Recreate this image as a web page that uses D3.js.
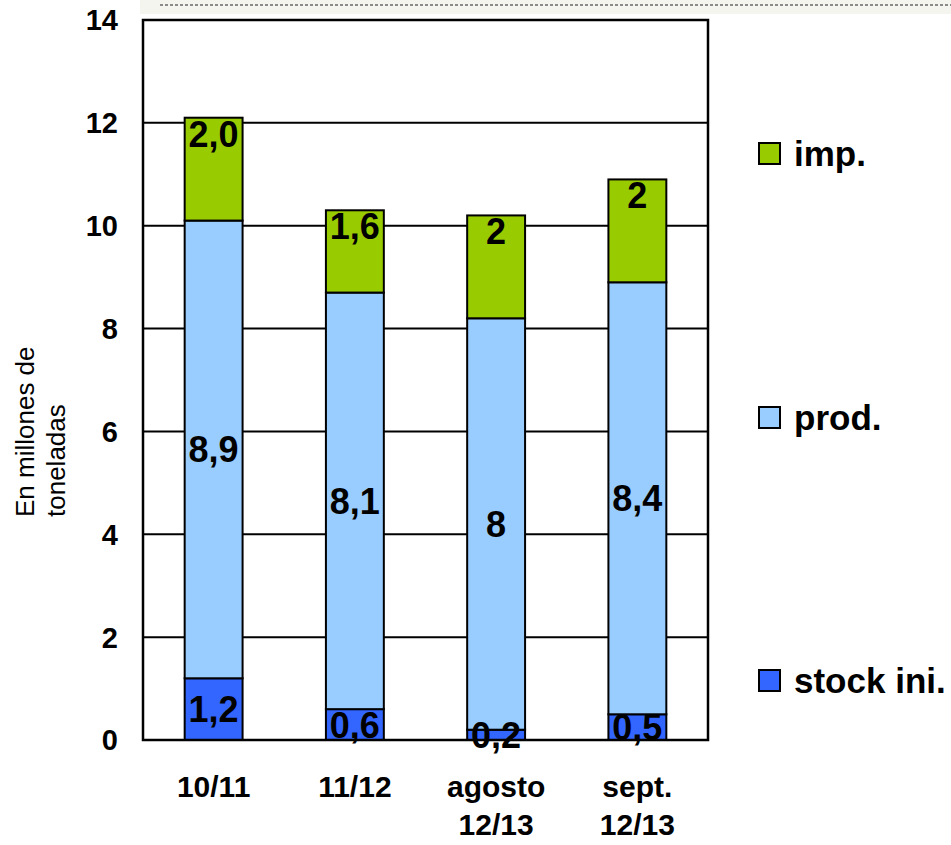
<!DOCTYPE html>
<html>
<head>
<meta charset="utf-8">
<script src="https://cdn.jsdelivr.net/npm/d3@7"></script>
<style>
  body { margin: 0; background: #fff; }
  text { font-family: "Liberation Sans", Arial, sans-serif; }
</style>
</head>
<body>
<div id="chart"></div>
<script>
// data
var categories = [["10/11"], ["11/12"], ["agosto", "12/13"], ["sept.", "12/13"]];
var stockIni = [1.2, 0.6, 0.2, 0.5];
var prod = [8.9, 8.1, 8, 8.4];
var imp = [2.0, 1.6, 2, 2];
var stockLabels = ["1,2", "0,6", "0,2", "0,5"];
var prodLabels = ["8,9", "8,1", "8", "8,4"];
var impLabels = ["2,0", "1,6", "2", "2"];
var yTicks = [0, 2, 4, 6, 8, 10, 12, 14];
var seriesNames = ["stock ini.", "prod.", "imp."];
var seriesColors = ["#3366ff", "#99ccff", "#99cc00"];

var W = 951, H = 845;
var plot = { left: 143, right: 708, top: 20, bottom: 740 };

var svg = d3.select("#chart").append("svg")
  .attr("width", W)
  .attr("height", H);

// faint dotted strip along the top
svg.append("rect")
  .attr("x", 140).attr("y", 0)
  .attr("width", W - 140).attr("height", 14)
  .attr("fill", "#f5f5f0");
svg.append("line")
  .attr("x1", 160).attr("x2", W)
  .attr("y1", 5).attr("y2", 5)
  .attr("stroke", "#8a8a8a")
  .attr("stroke-width", 2)
  .attr("stroke-dasharray", "3,2");

var keys = categories.map(function(d) { return d.join(" "); });

var x = d3.scaleBand()
  .domain(keys)
  .range([plot.left, plot.right])
  .paddingInner(0.59)
  .paddingOuter(0.295);

var y = d3.scaleLinear()
  .domain([0, 14])
  .range([plot.bottom, plot.top]);

// gridlines
svg.append("g")
  .selectAll("line")
  .data(yTicks)
  .enter()
  .append("line")
  .attr("x1", plot.left).attr("x2", plot.right)
  .attr("y1", function(d) { return y(d); })
  .attr("y2", function(d) { return y(d); })
  .attr("stroke", "#000")
  .attr("stroke-width", 2);

// y tick labels
svg.append("g")
  .selectAll("text")
  .data(yTicks)
  .enter()
  .append("text")
  .attr("x", 118)
  .attr("y", function(d) { return y(d); })
  .attr("dy", "0.36em")
  .attr("text-anchor", "end")
  .style("font-size", "29px")
  .style("font-weight", "bold")
  .text(function(d) { return d; });

// stacked table
var rows = keys.map(function(k, i) {
  return { key: k, stock: stockIni[i], prod: prod[i], imp: imp[i] };
});
var stack = d3.stack().keys(["stock", "prod", "imp"]);
var layers = stack(rows);
var labelSets = [stockLabels, prodLabels, impLabels];

layers.forEach(function(layer, li) {
  var g = svg.append("g");
  g.selectAll("rect")
    .data(layer)
    .enter()
    .append("rect")
    .attr("x", function(d) { return x(d.data.key); })
    .attr("y", function(d) { return y(d[1]); })
    .attr("width", x.bandwidth())
    .attr("height", function(d) { return y(d[0]) - y(d[1]); })
    .attr("fill", seriesColors[li])
    .attr("stroke", "#000")
    .attr("stroke-width", 2);
});

// value labels (drawn after all bars)
layers.forEach(function(layer, li) {
  svg.append("g")
    .selectAll("text")
    .data(layer)
    .enter()
    .append("text")
    .attr("x", function(d) { return x(d.data.key) + x.bandwidth() / 2; })
    .attr("y", function(d, i) {
      if (li == 2) return y(d[1]) + 16;
      return (y(d[0]) + y(d[1])) / 2;
    })
    .attr("dy", "0.36em")
    .attr("text-anchor", "middle")
    .style("font-size", "36px")
    .style("font-weight", "bold")
    .text(function(d, i) { return labelSets[li][i]; });
});

// plot border
svg.append("rect")
  .attr("x", plot.left).attr("y", plot.top)
  .attr("width", plot.right - plot.left)
  .attr("height", plot.bottom - plot.top)
  .attr("fill", "none")
  .attr("stroke", "#000")
  .attr("stroke-width", 2.5);

// x labels
var xl = svg.append("g")
  .selectAll("text")
  .data(categories)
  .enter()
  .append("text")
  .attr("text-anchor", "middle")
  .style("font-size", "30px")
  .style("font-weight", "bold");
xl.each(function(lines, i) {
  var t = d3.select(this);
  lines.forEach(function(s, j) {
    t.append("tspan")
      .attr("x", x(keys[i]) + x.bandwidth() / 2)
      .attr("y", 797 + j * 38)
      .text(s);
  });
});

// y axis title
var yt = svg.append("text")
  .attr("transform", "translate(34,517) rotate(-90)")
  .attr("text-anchor", "start")
  .style("font-size", "26px");
yt.append("tspan").attr("x", 0).attr("y", 0).text("En millones de");
yt.append("tspan").attr("x", 0).attr("y", 31).text("toneladas");

// legend (top to bottom: imp., prod., stock ini.)
var legendY = [680, 417, 153];
var legend = svg.append("g")
  .selectAll("g")
  .data(seriesNames)
  .enter()
  .append("g")
  .attr("transform", function(d, i) { return "translate(759," + legendY[i] + ")"; });
legend.append("rect")
  .attr("x", 0).attr("y", -10)
  .attr("width", 21).attr("height", 21)
  .attr("fill", function(d, i) { return seriesColors[i]; })
  .attr("stroke", "#000")
  .attr("stroke-width", 2);
legend.append("text")
  .attr("x", 35)
  .attr("y", 0)
  .attr("dy", "0.36em")
  .style("font-size", "35px")
  .style("font-weight", "bold")
  .text(function(d) { return d; });
</script>
</body>
</html>
